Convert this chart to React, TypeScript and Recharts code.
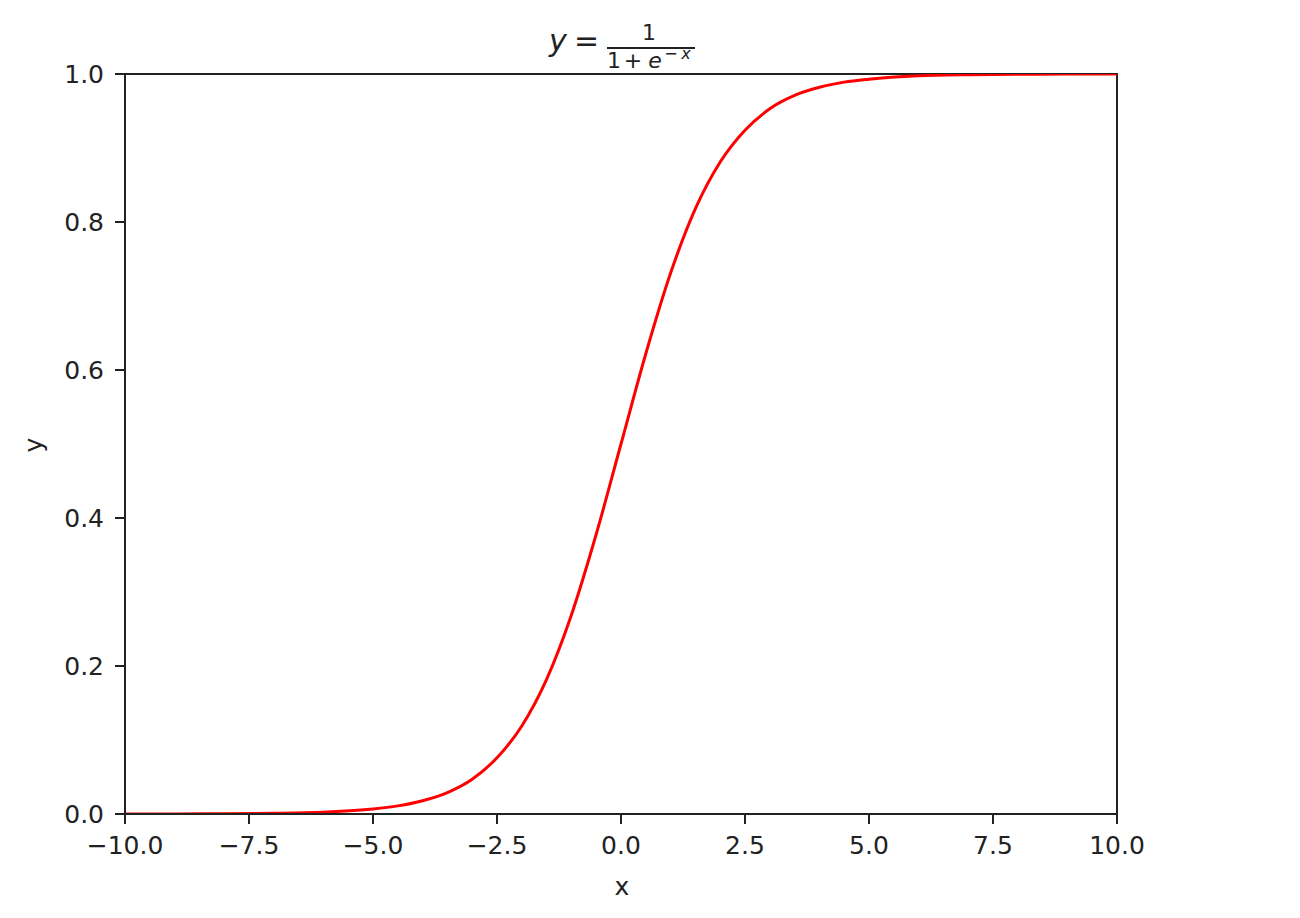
import React from "react";
import { LineChart, Line, XAxis, YAxis, ReferenceArea } from "recharts";

// x positions and sigmoid values
const xValues = [
  -10, -9, -8, -7, -6, -5, -4.5, -4, -3.5, -3, -2.5, -2, -1.5, -1, -0.5, 0,
  0.5, 1, 1.5, 2, 2.5, 3, 3.5, 4, 4.5, 5, 6, 7, 8, 9, 10,
];
const yValues = [
  0.0, 0.0001, 0.0003, 0.0009, 0.0025, 0.0067, 0.011, 0.018, 0.029, 0.047,
  0.076, 0.119, 0.182, 0.269, 0.378, 0.5, 0.622, 0.731, 0.818, 0.881, 0.924,
  0.953, 0.971, 0.982, 0.989, 0.993, 0.9975, 0.9991, 0.9997, 0.9999, 1.0,
];
const xTicks = [-10, -7.5, -5, -2.5, 0, 2.5, 5, 7.5, 10];
const yTicks = [0, 0.2, 0.4, 0.6, 0.8, 1.0];

const data = xValues.map((x, i) => ({ x, y: yValues[i] }));

const FONT = "'DejaVu Sans', sans-serif";
const INK = "#222";

const fmt = (v: number) => {
  const s = Math.abs(v).toFixed(1);
  return v < 0 ? "\u2212" + s : s;
};

export default function App() {
  const tickStyle = { fontSize: 25, fill: INK, fontFamily: FONT };
  return (
    <div style={{ position: "absolute", left: 0, top: 0, width: 1300, height: 918, background: "#fff" }}>
      <LineChart
        width={1300}
        height={918}
        data={data}
        margin={{ top: 74, right: 183, bottom: 0, left: 0 }}
      >
        <XAxis
          dataKey="x"
          type="number"
          domain={[-10, 10]}
          ticks={xTicks}
          tickFormatter={fmt}
          allowDataOverflow
          height={104}
          tickSize={10}
          tickMargin={12}
          tick={tickStyle}
          stroke={INK}
          strokeWidth={2}
          interval={0}
        />
        <YAxis
          type="number"
          domain={[0, 1]}
          ticks={yTicks}
          tickFormatter={(v: number) => v.toFixed(1)}
          allowDataOverflow
          width={125}
          tickSize={10}
          tickMargin={11}
          tick={tickStyle}
          stroke={INK}
          strokeWidth={2}
          interval={0}
        />
        <ReferenceArea
          x1={-10}
          x2={10}
          y1={0}
          y2={1}
          fill="none"
          stroke={INK}
          strokeWidth={2}
          ifOverflow="visible"
        />
        <Line
          type="monotone"
          dataKey="y"
          stroke="#ff0000"
          strokeWidth={3}
          dot={false}
          isAnimationActive={false}
        />
      </LineChart>
      <svg
        width={1300}
        height={918}
        style={{ position: "absolute", left: 0, top: 0, pointerEvents: "none" }}
        fontFamily={FONT}
        fill={INK}
      >
        {/* title: y = 1 / (1 + e^-x) */}
        <text x={549} y={51} fontSize={30} fontStyle="italic">y</text>
        <text x={574} y={51} fontSize={30}>=</text>
        <line x1={607} x2={695} y1={48} y2={48} stroke={INK} strokeWidth={1.8} />
        <text x={649} y={40} fontSize={22} textAnchor="middle">1</text>
        <text x={614} y={68} fontSize={22} textAnchor="middle">1</text>
        <text x={633} y={68} fontSize={22} textAnchor="middle">+</text>
        <text x={655} y={68} fontSize={22} textAnchor="middle" fontStyle="italic">e</text>
        <text x={671} y={59} fontSize={16} textAnchor="middle">{"\u2212"}</text>
        <text x={686} y={59} fontSize={16} textAnchor="middle" fontStyle="italic">x</text>
        {/* axis labels */}
        <text x={622} y={895} fontSize={25} textAnchor="middle">x</text>
        <text x={42} y={445} fontSize={25} textAnchor="middle" transform="rotate(-90 42 445)">y</text>
      </svg>
    </div>
  );
}
